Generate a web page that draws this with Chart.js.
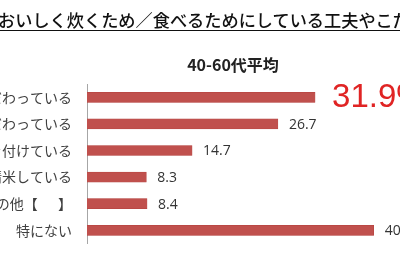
<!DOCTYPE html>
<html>
<head>
<meta charset="utf-8">
<script src="https://cdn.jsdelivr.net/npm/chart.js@4.4.1/dist/chart.umd.min.js"></script>
<style>
html,body{margin:0;padding:0;background:#fff;}
#wrap{position:relative;width:400px;height:267px;overflow:hidden;background:#fff;}
#title{position:absolute;left:-2px;top:7px;font-family:"Noto Sans CJK JP";font-size:17.2px;font-weight:500;color:#111;white-space:nowrap;text-decoration:underline;text-underline-offset:3px;text-decoration-thickness:1px;}
#sub{position:absolute;left:0;width:466px;top:52px;text-align:center;font-family:"Noto Sans CJK JP";font-size:16px;font-weight:700;color:#222;white-space:nowrap;}
#cv{position:absolute;left:-200px;top:0;}
</style>
</head>
<body>
<div id="wrap">
<canvas id="cv" width="680" height="267"></canvas>
<div id="title">おいしく炊くため／食べるためにしている工夫やこだわり</div>
<div id="sub">40-60代平均</div>
</div>
<script>
const categories = [
  "炊飯時の水加減にこだわっている",
  "お米の銘柄にこだわっている",
  "浸水時間に気を付けている",
  "家庭で精米している",
  "その他【　  】",
  "特にない"
];
const values = [31.9, 26.7, 14.7, 8.3, 8.4, 40.1];
const valueLabels = ["31.9%", "26.7", "14.7", "8.3", "8.4", "40.1"];
const xMax = 50;

const labelPlugin = {
  id: 'valueLabels',
  afterDatasetsDraw(chart) {
    const ctx = chart.ctx;
    const meta = chart.getDatasetMeta(0);
    ctx.save();
    ctx.textBaseline = 'middle';
    ctx.textAlign = 'left';
    meta.data.forEach((bar, i) => {
      if (i === 0) {
        ctx.font = '33px "Liberation Sans"';
        ctx.fillStyle = '#e02424';
        ctx.fillText(valueLabels[i], bar.x + 17, bar.y + 1);
      } else {
        ctx.font = '14px "Open Sans"';
        ctx.fillStyle = '#333';
        ctx.fillText(valueLabels[i], bar.x + 11, bar.y + 1);
      }
    });
    ctx.restore();
  }
};

new Chart(document.getElementById('cv'), {
  type: 'bar',
  data: {
    labels: categories,
    datasets: [{
      data: values,
      backgroundColor: '#c0504d',
      borderColor: '#b4413e',
      borderWidth: 0.5,
      barThickness: 10
    }]
  },
  options: {
    indexAxis: 'y',
    responsive: false,
    animation: false,
    events: [],
    layout: { padding: { top: 84, bottom: 17, left: 0, right: 35.5 } },
    plugins: { legend: { display: false }, tooltip: { enabled: false } },
    scales: {
      x: { display: false, min: 0, max: xMax },
      y: {
        afterFit(s) { s.width = 287; },
        grid: { display: false, drawTicks: false },
        border: { display: true, color: '#a6a6a6', width: 1 },
        ticks: {
          padding: 15,
          color: '#404040',
          font: { family: '"Noto Sans CJK JP"', size: 14 }
        }
      }
    }
  },
  plugins: [labelPlugin]
});
</script>
</body>
</html>
